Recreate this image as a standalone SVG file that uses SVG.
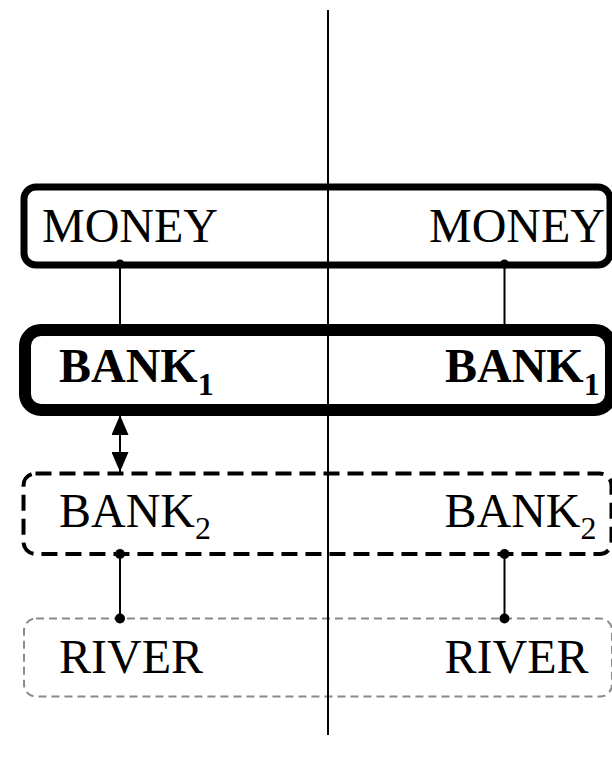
<svg xmlns="http://www.w3.org/2000/svg" width="612" height="762" viewBox="0 0 612 762">
<defs>
<style>
text{font-family:"Liberation Serif","Times New Roman",serif;font-size:48px;fill:#000}
.b{font-weight:bold}
.sub{font-size:32px}
.conn{stroke:#000;stroke-width:2;fill:none}
.dot{fill:#000}
</style>
<marker id="ah" viewBox="0 0 20 17" refX="20" refY="8.5" markerWidth="20" markerHeight="17" markerUnits="userSpaceOnUse" orient="auto">
<path d="M0,0 L20,8.5 L0,17 Z" fill="#000"/>
</marker>
</defs>
<rect width="612" height="762" fill="#fff"/>
<g id="money">
<rect x="24" y="187" width="586" height="78" rx="12" fill="none" stroke="#000" stroke-width="7"/>
<text x="42" y="242">MONEY</text>
<text x="429" y="242">MONEY</text>
</g>
<g id="bank1">
<rect x="25" y="330" width="586" height="80" rx="16" fill="none" stroke="#000" stroke-width="12"/>
<text class="b" x="59" y="382">BANK<tspan class="sub" dy="13">1</tspan></text>
<text class="b" x="445" y="382">BANK<tspan class="sub" dy="13">1</tspan></text>
</g>
<g id="bank2">
<rect x="23.5" y="473.5" width="588" height="80.5" rx="12" fill="none" stroke="#000" stroke-width="4" stroke-dasharray="16 8"/>
<text x="59" y="527">BANK<tspan class="sub" dy="12">2</tspan></text>
<text x="444.5" y="527">BANK<tspan class="sub" dy="12">2</tspan></text>
</g>
<g id="river">
<rect x="24" y="618.5" width="588" height="78" rx="12" fill="none" stroke="#8a8a8a" stroke-width="2" stroke-dasharray="8 5"/>
<text x="59" y="673">RIVER</text>
<text x="444.5" y="673">RIVER</text>
</g>
<g id="connectors">
<line x1="328" y1="10" x2="328" y2="735" stroke="#000" stroke-width="2"/>
<line class="conn" x1="120" y1="264" x2="120" y2="324"/>
<line class="conn" x1="504.5" y1="264" x2="504.5" y2="324"/>
<circle class="dot" cx="120" cy="264" r="4.5"/>
<circle class="dot" cx="504.5" cy="264" r="4.5"/>
<line class="conn" x1="120" y1="442" x2="120" y2="415" marker-end="url(#ah)"/>
<line class="conn" x1="120" y1="442" x2="120" y2="472" marker-end="url(#ah)"/>
<line class="conn" x1="120" y1="554" x2="120" y2="618"/>
<line class="conn" x1="504.5" y1="554" x2="504.5" y2="618"/>
<circle class="dot" cx="120" cy="554" r="5"/>
<circle class="dot" cx="504.5" cy="554" r="5"/>
<circle class="dot" cx="120" cy="618.5" r="5"/>
<circle class="dot" cx="504.5" cy="618.5" r="5"/>
</g>
</svg>
